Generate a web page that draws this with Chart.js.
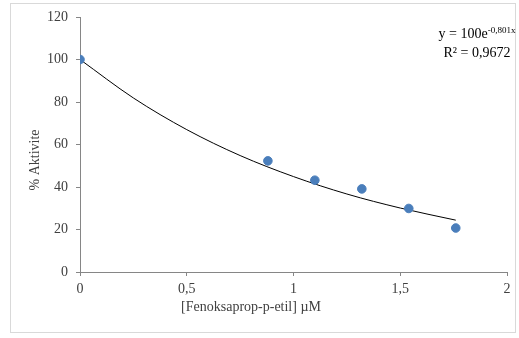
<!DOCTYPE html>
<html>
<head>
<meta charset="utf-8">
<script src="https://cdn.jsdelivr.net/npm/chart.js@4"></script>
<style>
  body { margin: 0; background: #fff; }
  canvas { display: block; }
</style>
</head>
<body>
<canvas id="grafico" width="519" height="338"></canvas>
<script>
// measured points
const konsantrasyon = [0, 0.88, 1.1, 1.32, 1.54, 1.76];
const aktivite = [100, 52.3, 43.2, 39.1, 29.9, 20.7];

// trendline
const trendX = [0, 0.25, 0.5, 0.75, 1, 1.25, 1.5, 1.76];
const trendY = [100, 81.9, 67.0, 54.8, 44.9, 36.7, 30.1, 24.4];

const xTicks = [0, 0.5, 1, 1.5, 2];
const yTicks = [0, 20, 40, 60, 80, 100, 120];

const gri = '#868686';
const yazi = '#404040';
const font = 'Liberation Serif, Times New Roman, serif';

const virgul = v => String(v).replace('.', ',');

// frame, axis titles and trendline label
const ekstra = {
  id: 'ekstra',
  beforeDraw(chart) {
    const ctx = chart.ctx;
    ctx.save();
    ctx.strokeStyle = '#d9d9d9';
    ctx.lineWidth = 1;
    ctx.strokeRect(10.5, 3.5, 505, 329);
    ctx.restore();
  },
  afterDraw(chart) {
    const ctx = chart.ctx;
    ctx.save();
    ctx.fillStyle = yazi;
    ctx.font = '14px ' + font;
    ctx.textBaseline = 'middle';
    ctx.textAlign = 'center';
    ctx.fillText('[Fenoksaprop-p-etil] µM', 251, 307);
    ctx.translate(35, 160);
    ctx.rotate(-Math.PI / 2);
    ctx.fillText('% Aktivite', 0, 0);
    ctx.restore();

    ctx.save();
    ctx.fillStyle = '#000';
    ctx.textBaseline = 'alphabetic';
    ctx.textAlign = 'left';
    ctx.font = '14px ' + font;
    const a = 'y = 100e';
    const sup = '-0,801x';
    const wa = ctx.measureText(a).width;
    ctx.font = '9px ' + font;
    const ws = ctx.measureText(sup).width;
    const x0 = 477 - (wa + ws) / 2;
    ctx.font = '14px ' + font;
    ctx.fillText(a, x0, 38);
    ctx.font = '9px ' + font;
    ctx.fillText(sup, x0 + wa, 33);
    ctx.font = '14px ' + font;
    ctx.textAlign = 'center';
    ctx.fillText('R² = 0,9672', 477, 57);
    ctx.restore();
  }
};

new Chart(document.getElementById('grafico'), {
  type: 'scatter',
  data: {
    datasets: [
      {
        label: 'Eğilim',
        data: trendX.map((x, i) => ({ x: x, y: trendY[i] })),
        showLine: true,
        borderColor: '#000',
        borderWidth: 1,
        pointRadius: 0,
        cubicInterpolationMode: 'monotone',
        order: 2
      },
      {
        label: '% Aktivite',
        data: konsantrasyon.map((x, i) => ({ x: x, y: aktivite[i] })),
        backgroundColor: '#4a7ebb',
        borderColor: '#4a7ebb',
        pointRadius: 4.3,
        order: 1
      }
    ]
  },
  options: {
    responsive: false,
    animation: false,
    layout: { padding: { left: 0, top: 17, right: 12, bottom: 0 } },
    plugins: {
      legend: { display: false },
      tooltip: { enabled: false }
    },
    scales: {
      x: {
        type: 'linear',
        min: 0,
        max: 2,
        afterBuildTicks: s => { s.ticks = xTicks.map(v => ({ value: v })); },
        afterFit: s => { s.height = 66; },
        grid: { drawOnChartArea: false, tickLength: 4, color: gri },
        border: { color: gri },
        ticks: {
          color: yazi,
          font: { family: font, size: 14 },
          padding: 5,
          callback: virgul
        }
      },
      y: {
        min: 0,
        max: 120,
        afterBuildTicks: s => { s.ticks = yTicks.map(v => ({ value: v })); },
        afterFit: s => { s.width = 80; },
        grid: { drawOnChartArea: false, tickLength: 4, color: gri },
        border: { color: gri },
        ticks: {
          color: yazi,
          font: { family: font, size: 14 },
          padding: 8,
          callback: virgul
        }
      }
    }
  },
  plugins: [ekstra]
});
</script>
</body>
</html>
